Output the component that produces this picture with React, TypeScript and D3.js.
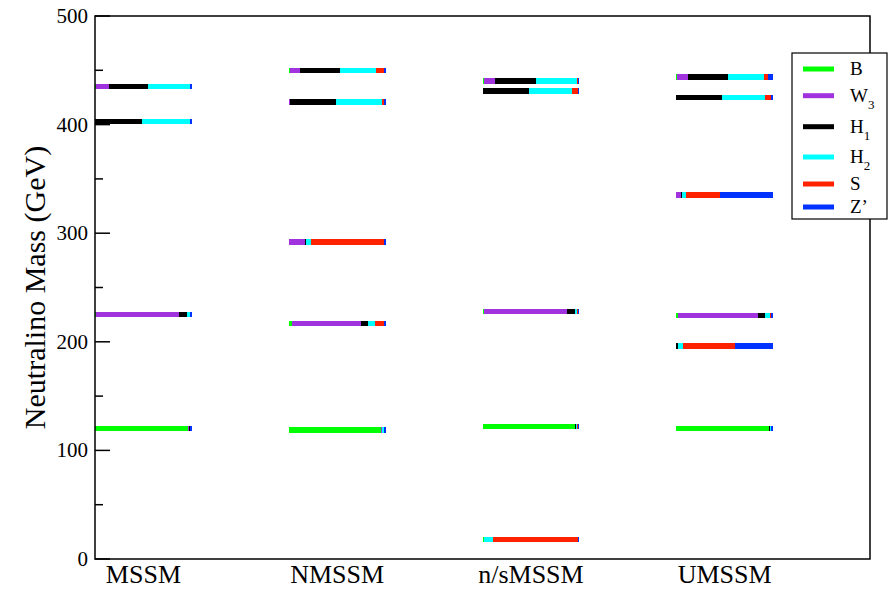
import React from "react";
import * as d3 from "d3";

// Models along the x axis and the neutralino field components
const models = ["MSSM", "NMSSM", "n/sMSSM", "UMSSM"];
const componentNames = ["B", "W", "H", "H", "S", "Z’"];
const componentSubscripts = ["", "3", "1", "2", "", ""];
const componentColors = ["#00ff00", "#a033dd", "#000000", "#00ffff", "#ff2200", "#0033ff"];

// Neutralino masses (GeV) per model
const mssmMasses = [120, 225, 403, 435];
const nmssmMasses = [119, 217, 292, 421, 450];
const nsmssmMasses = [18, 122, 228, 431, 440];
const umssmMasses = [120, 196, 224, 335, 425, 444];

// Composition fractions per state, ordered B, W3, H1, H2, S, Z'
const mssmFractions = [
  [0.965, 0.01, 0.01, 0, 0, 0.015],
  [0.01, 0.86, 0.08, 0.035, 0, 0.015],
  [0, 0, 0.49, 0.495, 0, 0.015],
  [0.01, 0.13, 0.41, 0.435, 0, 0.015],
];
const nmssmFractions = [
  [0.95, 0.013, 0, 0.024, 0, 0.013],
  [0.03, 0.715, 0.07, 0.08, 0.09, 0.015],
  [0, 0.165, 0.01, 0.05, 0.76, 0.015],
  [0, 0.01, 0.48, 0.475, 0.02, 0.015],
  [0.01, 0.105, 0.41, 0.375, 0.087, 0.013],
];
const nsmssmFractions = [
  [0.015, 0, 0, 0.09, 0.885, 0.01],
  [0.95, 0.005, 0.01, 0.01, 0.01, 0.015],
  [0.015, 0.855, 0.08, 0.025, 0.01, 0.015],
  [0, 0, 0.48, 0.445, 0.06, 0.015],
  [0.02, 0.11, 0.42, 0.425, 0.013, 0.012],
];
const umssmFractions = [
  [0.96, 0, 0.01, 0.005, 0.005, 0.02],
  [0, 0, 0.02, 0.05, 0.54, 0.39],
  [0.02, 0.825, 0.07, 0.05, 0.01, 0.025],
  [0, 0.05, 0.01, 0.04, 0.35, 0.55],
  [0, 0, 0.47, 0.45, 0.06, 0.02],
  [0.01, 0.11, 0.41, 0.375, 0.045, 0.05],
];

const yMajorTicks = [0, 100, 200, 300, 400, 500];
const yMinorTicks = [50, 150, 250, 350, 450];

const massesByModel = [mssmMasses, nmssmMasses, nsmssmMasses, umssmMasses];
const fractionsByModel = [mssmFractions, nmssmFractions, nsmssmFractions, umssmFractions];

const W = 893;
const H = 590;
const left = 95;
const right = 870;
const top = 16;
const bottom = 559;
const barWidthUnits = 0.5;
const barThickness = 5.5;
const serif = "Liberation Serif, DejaVu Serif, Times New Roman, serif";

export default function App() {
  const x = d3.scaleLinear().domain([0, 4]).range([left, right]);
  const y = d3.scaleLinear().domain([0, 500]).range([bottom, top]);

  const bars: React.ReactNode[] = [];
  models.forEach((m, i) => {
    const masses = massesByModel[i];
    const fracs = fractionsByModel[i];
    masses.forEach((mass, j) => {
      const f = fracs[j];
      const total = d3.sum(f);
      const cum = d3.cumsum(f);
      f.forEach((v, k) => {
        if (v <= 0) return;
        const start = i + (barWidthUnits * (cum[k] - v)) / total;
        const end = i + (barWidthUnits * cum[k]) / total;
        bars.push(
          <rect
            key={`${m}-${j}-${k}`}
            x={x(start)}
            width={Math.max(x(end) - x(start), 0.8)}
            y={y(mass) - barThickness / 2}
            height={barThickness}
            fill={componentColors[k]}
            shapeRendering="crispEdges"
          />
        );
      });
    });
  });

  const legendRows = [69, 95.7, 126.7, 157, 184, 207];
  const textStyle = { fontFamily: serif };

  return (
    <svg
      width={W}
      height={H}
      style={{ position: "absolute", left: 0, top: 0, background: "#fff", fontFamily: serif }}
    >
      <rect x={0} y={0} width={W} height={H} fill="#fff" />
      {bars}

      {/* frame */}
      <rect x={left} y={top} width={right - left} height={bottom - top} fill="none" stroke="#000" strokeWidth={1.5} />

      {/* y ticks */}
      {yMajorTicks.map((t) => (
        <g key={`maj-${t}`}>
          <line x1={left} x2={left + 15} y1={y(t)} y2={y(t)} stroke="#000" strokeWidth={1.5} />
          <text x={left - 7} y={y(t) + 7} textAnchor="end" fontSize={21} style={textStyle}>
            {t}
          </text>
        </g>
      ))}
      {yMinorTicks.map((t) => (
        <line key={`min-${t}`} x1={left} x2={left + 8} y1={y(t)} y2={y(t)} stroke="#000" strokeWidth={1.5} />
      ))}

      {/* model labels */}
      {models.map((m, i) => (
        <text
          key={m}
          x={x(i + barWidthUnits / 2)}
          y={bottom + 24}
          textAnchor="middle"
          fontSize={26}
          style={textStyle}
        >
          {m}
        </text>
      ))}

      {/* y axis title */}
      <text
        transform={`translate(${34},${(top + bottom) / 2}) rotate(-90)`}
        textAnchor="middle"
        fontSize={30}
        dy="0.35em"
        style={textStyle}
      >
        Neutralino Mass (GeV)
      </text>

      {/* legend */}
      <rect x={792} y={53} width={95} height={166} fill="#fff" stroke="#000" strokeWidth={1.2} />
      {componentNames.map((name, k) => (
        <g key={`leg-${k}`}>
          <line
            x1={803}
            x2={834}
            y1={legendRows[k]}
            y2={legendRows[k]}
            stroke={componentColors[k]}
            strokeWidth={5}
          />
          <text x={850} y={legendRows[k] + 6} fontSize={19} style={textStyle}>
            {name}
            {componentSubscripts[k] && (
              <tspan fontSize={13} dy={7}>
                {componentSubscripts[k]}
              </tspan>
            )}
          </text>
        </g>
      ))}
    </svg>
  );
}
